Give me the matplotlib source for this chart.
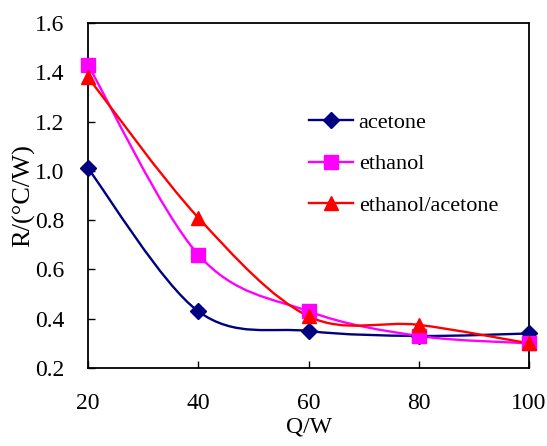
import matplotlib
matplotlib.use("Agg")
import numpy as np
from matplotlib import pyplot as plt
from matplotlib.path import Path
from matplotlib.patches import PathPatch
from matplotlib.lines import Line2D

# data
q = [20, 40, 60, 80, 100]
acetone = [1.01, 0.43, 0.35, 0.33, 0.34]
ethanol = [1.43, 0.66, 0.43, 0.33, 0.30]
mixture = [1.38, 0.81, 0.41, 0.375, 0.30]

plt.rcParams['font.family'] = ['Liberation Serif', 'DejaVu Serif']


def smooth_path(x, y):
    # Excel-like smoothed line: cubic bezier through the points
    pts = np.column_stack([x, y]).astype(float)
    n = len(pts)
    verts = [pts[0]]
    codes = [Path.MOVETO]
    for i in range(n - 1):
        p0 = pts[i - 1] if i > 0 else pts[i]
        p1 = pts[i]
        p2 = pts[i + 1]
        p3 = pts[i + 2] if i + 2 < n else pts[i + 1]
        c1 = p1 + (p2 - p0) / 6.0
        c2 = p2 - (p3 - p1) / 6.0
        verts += [c1, c2, p2]
        codes += [Path.CURVE4] * 3
    return Path(verts, codes)


fig = plt.figure(figsize=(5.47, 4.46), dpi=100)
ax = fig.add_axes([0.161, 0.175, 0.806, 0.773])

series = [
    ("acetone", acetone, "#000080", "D", 8),
    ("ethanol", ethanol, "#ff00ff", "s", 10),
    ("ethanol/acetone", mixture, "#ff0000", "^", 10),
]

handles = []
for name, vals, color, marker, ms in series:
    ax.add_patch(PathPatch(smooth_path(q, vals), fill=False, edgecolor=color, lw=1.7, zorder=2))
    ax.plot(q, vals, linestyle="none", marker=marker, color=color, markersize=ms, zorder=3, clip_on=False)
    handles.append(Line2D([], [], color=color, lw=1.7, marker=marker, markersize=ms, label=name))

ax.set_xlim(20, 100)
ax.set_ylim(0.2, 1.6)
ax.set_xticks(q)
ax.set_yticks(np.arange(0.2, 1.61, 0.2))
ax.set_yticklabels([f"{v:.1f}" for v in np.arange(0.2, 1.61, 0.2)])
ax.tick_params(direction="in", length=5, width=1, labelsize=17)
ax.tick_params(axis="x", pad=18)
ax.tick_params(axis="y", pad=17)
for s in ax.spines.values():
    s.set_linewidth(1.3)

ax.set_xlabel("Q/W", fontsize=17, labelpad=2)
ax.set_ylabel("R/(°C/W)", fontsize=19, labelpad=0)

ax.legend(handles=handles, loc="upper left", bbox_to_anchor=(0.455, 0.80), frameon=False,
          fontsize=16, handlelength=2.0, handletextpad=0.25, labelspacing=0.95)

fig.savefig("out.png", dpi=100)
